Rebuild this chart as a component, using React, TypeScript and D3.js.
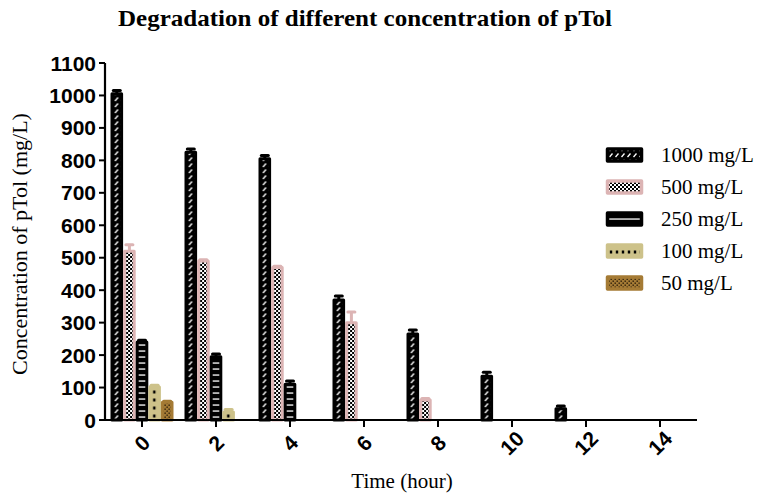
import React from "react";
import * as d3 from "d3";

const times = [0, 2, 4, 6, 8, 10, 12, 14];
const seriesNames = ["1000 mg/L", "500 mg/L", "250 mg/L", "100 mg/L", "50 mg/L"];
const v1000 = [1005, 825, 805, 370, 265, 135, 35, 0];
const e1000 = [10, 10, 10, 12, 12, 12, 8, 0];
const v500 = [520, 490, 470, 300, 62, 0, 0, 0];
const e500 = [20, 4, 4, 33, 4, 0, 0, 0];
const v250 = [240, 195, 110, 0, 0, 0, 0, 0];
const e250 = [6, 8, 10, 0, 0, 0, 0, 0];
const v100 = [102, 25, 0, 0, 0, 0, 0, 0];
const e100 = [5, 7, 0, 0, 0, 0, 0, 0];
const v50 = [55, 0, 0, 0, 0, 0, 0, 0];
const e50 = [3, 0, 0, 0, 0, 0, 0, 0];
const yTicks = [0, 100, 200, 300, 400, 500, 600, 700, 800, 900, 1000, 1100];

const values = [v1000, v500, v250, v100, v50];
const errors = [e1000, e500, e250, e100, e50];
const colors = ["#000000", "#dcb4b4", "#000000", "#cdc28a", "#a57b35"];

const W = 762, H = 494;
const x = d3.scaleLinear().domain([-1, 15]).range([105, 697]);
const y = d3.scaleLinear().domain([0, 1100]).range([420, 63]);
const slot = 12.6;
const sw = 3;

function patternContent(s: number) {
  switch (s) {
    case 0:
      return (
        <>
          <rect width={6} height={6} fill="#000" />
          <path d="M1.5,5 L4.5,1.5" stroke="#fff" strokeWidth={1.3} />
        </>
      );
    case 1:
      return (
        <>
          <rect width={4} height={4} fill="#fff" />
          <rect x={0} y={0} width={2} height={2} fill="#000" />
          <rect x={2} y={2} width={2} height={2} fill="#000" />
          <rect x={1} y={1} width={1} height={1} fill="#000" />
        </>
      );
    case 2:
      return (
        <>
          <rect width={6} height={6} fill="#000" />
          <rect x={0} y={2.4} width={6} height={1.3} fill="#fff" />
        </>
      );
    case 3:
      return (
        <>
          <rect width={6} height={8} fill="#cdc28a" />
          <rect x={1.8} y={2.5} width={2.4} height={3} fill="#000" />
        </>
      );
    default:
      return (
        <>
          <rect width={4} height={4} fill="#a57b35" />
          <rect x={0.5} y={0.5} width={1.4} height={1.4} fill="#2a1c08" />
          <rect x={2.5} y={2.5} width={1.4} height={1.4} fill="#2a1c08" />
        </>
      );
  }
}
const tileSize = [[6, 6], [4, 4], [6, 6], [6, 8], [4, 4]];

export default function App() {
  const bars: any[] = [];
  const defs: any[] = [];
  values.forEach((vals, s) => {
    vals.forEach((v, i) => {
      if (v <= 0) return;
      const cx = x(times[i]) + (s - 2) * slot;
      const bx = cx - slot / 2 + sw / 2;
      const bw = slot - sw;
      const id = `p${s}_${i}`;
      defs.push(
        <pattern key={id} id={id} patternUnits="userSpaceOnUse" x={bx + sw / 2} y={y(0)}
          width={tileSize[s][0]} height={tileSize[s][1]}>
          {patternContent(s)}
        </pattern>
      );
      const e = errors[s][i];
      bars.push(
        <g key={id}>
          {e > 0 && (
            <>
              <line x1={cx} x2={cx} y1={y(v)} y2={y(v + e)} stroke={colors[s]} strokeWidth={3} />
              <line x1={cx - 3.5} x2={cx + 3.5} y1={y(v + e)} y2={y(v + e)} stroke={colors[s]}
                strokeWidth={3} strokeLinecap="round" />
            </>
          )}
          <rect x={bx} y={y(v)} width={bw} height={y(0) - y(v)} fill={`url(#${id})`}
            stroke={colors[s]} strokeWidth={sw} strokeLinejoin="round" />
        </g>
      );
    });
  });

  const legendY = [155, 187, 219, 251, 283];
  seriesNames.forEach((_, s) => {
    const id = `lg${s}`;
    defs.push(
      <pattern key={id} id={id} patternUnits="userSpaceOnUse" x={608} y={legendY[s] - 3}
        width={tileSize[s][0]} height={tileSize[s][1]}>
        {patternContent(s)}
      </pattern>
    );
  });

  return (
    <svg width={W} height={H} style={{ position: "absolute", left: 0, top: 0, background: "#fff" }}
      fontFamily="'Liberation Serif', 'Times New Roman', serif">
      <defs>{defs}</defs>
      <rect width={W} height={H} fill="#fff" />
      <text x={365} y={26} textAnchor="middle" fontSize={23} fontWeight="bold" textLength={494}
        lengthAdjust="spacingAndGlyphs">Degradation of different concentration of pTol</text>
      {bars}
      {/* y axis */}
      <line x1={105} x2={105} y1={y(0) + 1} y2={y(1100)} stroke="#000" strokeWidth={2.2} />
      {yTicks.map((t) => (
        <g key={t}>
          <line x1={99} x2={105} y1={y(t)} y2={y(t)} stroke="#000" strokeWidth={2} />
          <text x={96} y={y(t)} dy="0.36em" textAnchor="end" fontSize={21} fontWeight="bold"
            fontFamily="'Liberation Sans', Arial, sans-serif">{t}</text>
        </g>
      ))}
      {/* x axis */}
      <line x1={104} x2={697} y1={y(0)} y2={y(0)} stroke="#000" strokeWidth={2.2} />
      {times.map((t) => (
        <g key={t}>
          <line x1={x(t)} x2={x(t)} y1={y(0)} y2={y(0) + 7} stroke="#000" strokeWidth={2} />
          <text transform={`translate(${x(t)},${y(0) + 23}) rotate(-45)`} textAnchor="middle"
            dy="0.36em" fontSize={21} fontWeight="bold"
            fontFamily="'Liberation Sans', Arial, sans-serif">{t}</text>
        </g>
      ))}
      <text x={402} y={488} textAnchor="middle" fontSize={21}>Time (hour)</text>
      <text transform={`translate(27,244) rotate(-90)`} textAnchor="middle" fontSize={22}>
        Concentration of pTol (mg/L)
      </text>
      {/* legend */}
      {seriesNames.map((n, s) => (
        <g key={n}>
          <rect x={607.5} y={legendY[s] - 6} width={34} height={12} fill={`url(#lg${s})`}
            stroke={colors[s]} strokeWidth={3.5} strokeLinejoin="round" />
          <text x={661} y={legendY[s] + 7} fontSize={21}>{n}</text>
        </g>
      ))}
    </svg>
  );
}
